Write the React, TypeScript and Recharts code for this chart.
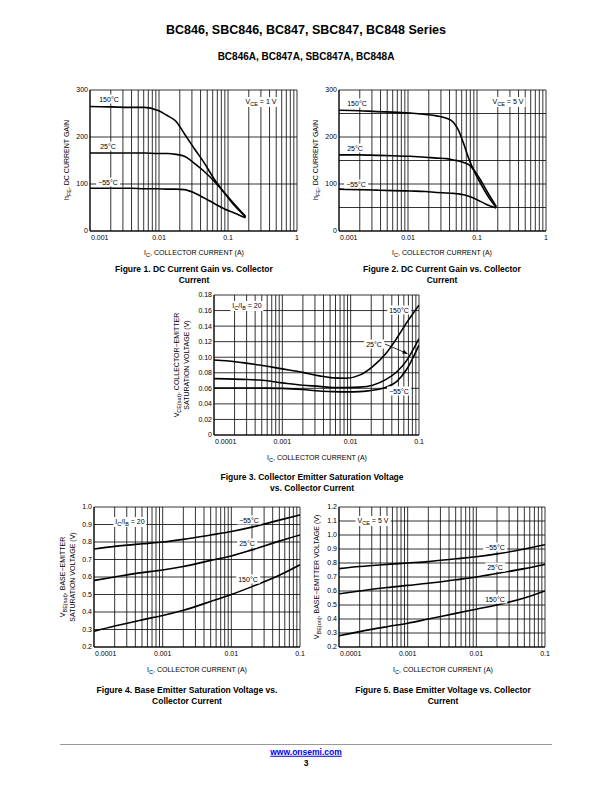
import React from "react";
import { LineChart, Line, XAxis, YAxis, CartesianGrid } from "recharts";

const FONT = '"Liberation Sans", Arial, Helvetica, sans-serif';

// ---- Figure 1: hFE vs Ic, VCE = 1 V
const fig1Ic = [0.001, 0.002, 0.004, 0.0062, 0.0095, 0.0134, 0.0177, 0.0233, 0.0326, 0.0457, 0.064, 0.089, 0.126, 0.18];
const fig1Hot = [265, 264, 263, 263, 257, 245, 233, 207, 175, 144, 109, 81, 53, 30];
const fig1Room = [166, 166, 166, 166, 165, 165, 163, 159, 144, 126, 105, 81, 56, 31];
const fig1Cold = [91, 91, 91, 90, 90, 89, 89, 88, 81, 70, 58, 47, 38, 28];

// ---- Figure 2: hFE vs Ic, VCE = 5 V
const fig2Ic = [0.001, 0.002, 0.0035, 0.006, 0.0107, 0.018, 0.026, 0.036, 0.0457, 0.054, 0.064, 0.076, 0.089, 0.112, 0.14, 0.19];
const fig2Hot = [257, 256, 254, 253, 251, 248, 245, 240, 231, 214, 186, 154, 130, 102, 77, 50];
const fig2Room = [162, 162, 161, 160, 159, 157, 155, 154, 151, 149, 146, 141, 131, 109, 84, 52];
const fig2Cold = [89, 88, 87, 86, 85, 84, 82, 81, 80, 79, 77, 74, 70, 63, 56, 49];

// ---- Figure 3: VCE(sat) vs Ic
const fig3Ic = [0.0001, 0.00015, 0.00026, 0.00046, 0.001, 0.002, 0.0035, 0.0055, 0.0087, 0.0135, 0.021, 0.033, 0.047, 0.065, 0.1];
const fig3Hot = [0.0965, 0.0955, 0.093, 0.09, 0.085, 0.0805, 0.076, 0.0735, 0.073, 0.077, 0.088, 0.105, 0.124, 0.1435, 0.167];
const fig3Room = [0.0725, 0.0722, 0.0715, 0.0707, 0.067, 0.064, 0.0625, 0.061, 0.061, 0.0615, 0.064, 0.0715, 0.081, 0.095, 0.124];
const fig3Cold = [0.0605, 0.0605, 0.0605, 0.0603, 0.06, 0.0585, 0.0565, 0.0558, 0.0555, 0.0558, 0.0575, 0.0615, 0.0685, 0.0835, 0.1157];

// ---- Figure 4: VBE(sat) vs Ic
const fig4Ic = [0.0001, 0.0002, 0.0005, 0.001, 0.002, 0.005, 0.01, 0.02, 0.05, 0.1];
const fig4Cold = [0.76, 0.775, 0.79, 0.8, 0.815, 0.84, 0.86, 0.885, 0.925, 0.955];
const fig4Room = [0.58, 0.6, 0.625, 0.64, 0.66, 0.695, 0.72, 0.755, 0.805, 0.84];
const fig4Hot = [0.29, 0.32, 0.355, 0.38, 0.41, 0.46, 0.5, 0.545, 0.61, 0.67];

// ---- Figure 5: VBE(on) vs Ic
const fig5Ic = [0.0001, 0.0002, 0.0005, 0.001, 0.002, 0.005, 0.01, 0.02, 0.05, 0.1];
const fig5Cold = [0.76, 0.775, 0.79, 0.8, 0.81, 0.83, 0.845, 0.865, 0.9, 0.93];
const fig5Room = [0.58, 0.6, 0.625, 0.64, 0.655, 0.68, 0.7, 0.725, 0.76, 0.79];
const fig5Hot = [0.28, 0.31, 0.345, 0.37, 0.4, 0.44, 0.47, 0.5, 0.55, 0.6];

// tick labels
const xLabels1 = ["0.001", "0.01", "0.1", "1"];
const xDecades1 = [0.001, 0.01, 0.1, 1];
const xLabels3 = ["0.0001", "0.001", "0.01", "0.1"];
const xDecades3 = [0.0001, 0.001, 0.01, 0.1];

const yTicks1 = [0, 100, 200, 300];
const yLabels1 = ["0", "100", "200", "300"];
const yTicks2 = [0, 50, 100, 150, 200, 250, 300];
const yTicks3 = [0, 0.02, 0.04, 0.06, 0.08, 0.1, 0.12, 0.14, 0.16, 0.18];
const yLabels3 = ["0", "0.02", "0.04", "0.06", "0.08", "0.10", "0.12", "0.14", "0.16", "0.18"];
const yTicks4 = [0.2, 0.3, 0.4, 0.5, 0.6, 0.7, 0.8, 0.9, 1.0];
const yLabels4 = ["0.2", "0.3", "0.4", "0.5", "0.6", "0.7", "0.8", "0.9", "1.0"];
const yTicks5 = [0.2, 0.3, 0.4, 0.5, 0.6, 0.7, 0.8, 0.9, 1.0, 1.1, 1.2];
const yLabels5 = ["0.2", "0.3", "0.4", "0.5", "0.6", "0.7", "0.8", "0.9", "1.0", "1.1", "1.2"];

// 1..9 grid lines in every decade
function logGrid(decades: number[]) {
  const out: number[] = [];
  decades.forEach((d, i) => {
    if (i === decades.length - 1) {
      out.push(d);
      return;
    }
    for (let k = 1; k <= 9; k++) out.push(+(d * k).toPrecision(6));
  });
  return out;
}

const near = (a: number, b: number) => Math.abs(a - b) < Math.abs(b) * 1e-6 + 1e-9;

const toPoints = (xs: number[], ys: number[]) => xs.map((i, k) => ({ i, v: ys[k] }));

type Series = { xs: number[]; ys: number[] };

type PlotProps = {
  left: number;
  top: number;
  w: number;
  h: number;
  xDecades: number[];
  xLabels: string[];
  yDomain: [number, number];
  yTicks: number[];
  yLabelVals: number[];
  yLabels: string[];
  series: Series[];
};

const AXIS_W = 40;
const MT = 6;
const MR = 6;
const AXIS_H = 16;

function Plot(p: PlotProps) {
  const grid = logGrid(p.xDecades);

  const xTick = (props: any) => {
    const { x, y, payload } = props;
    const idx = p.xDecades.findIndex((d) => near(payload.value, d));
    if (idx < 0) return <g />;
    const first = idx === 0;
    return (
      <text
        x={first ? x + 1 : x}
        y={y}
        dy="0.71em"
        textAnchor={first ? "start" : "middle"}
        fontSize={7}
        fontFamily={FONT}
        fill="#000"
      >
        {p.xLabels[idx]}
      </text>
    );
  };

  const yTick = (props: any) => {
    const { x, y, payload } = props;
    const idx = p.yLabelVals.findIndex((d) => near(payload.value, d));
    if (idx < 0) return <g />;
    return (
      <text x={x} y={y} dy="0.35em" textAnchor="end" fontSize={7} fontFamily={FONT} fill="#000">
        {p.yLabels[idx]}
      </text>
    );
  };

  return (
    <div style={{ position: "absolute", left: p.left - AXIS_W, top: p.top - MT }}>
      <LineChart
        width={AXIS_W + p.w + MR}
        height={MT + p.h + AXIS_H}
        margin={{ top: MT, right: MR, bottom: 0, left: 0 }}
      >
        <CartesianGrid stroke="#000" strokeWidth={0.8} />
        <XAxis
          dataKey="i"
          type="number"
          scale="log"
          domain={[p.xDecades[0], p.xDecades[p.xDecades.length - 1]]}
          ticks={grid}
          interval={0}
          allowDataOverflow
          height={AXIS_H}
          tickLine={false}
          tickSize={0}
          tickMargin={4}
          axisLine={{ stroke: "#000", strokeWidth: 1 }}
          tick={xTick}
        />
        <YAxis
          type="number"
          domain={p.yDomain}
          ticks={p.yTicks}
          interval={0}
          allowDataOverflow
          width={AXIS_W}
          tickLine={false}
          tickSize={0}
          tickMargin={2}
          axisLine={{ stroke: "#000", strokeWidth: 1 }}
          tick={yTick}
        />
        {p.series.map((s, k) => (
          <Line
            key={k}
            data={toPoints(s.xs, s.ys)}
            dataKey="v"
            type="monotone"
            stroke="#000"
            strokeWidth={1.6}
            dot={false}
            isAnimationActive={false}
          />
        ))}
      </LineChart>
    </div>
  );
}

function Txt({ x, y, size = 7, bold = false, children }: any) {
  return (
    <div
      style={{
        position: "absolute",
        left: x,
        top: y,
        transform: "translate(-50%, -50%)",
        fontSize: size,
        fontWeight: bold ? 700 : 400,
        fontFamily: FONT,
        whiteSpace: "nowrap",
        lineHeight: 1,
        color: "#000",
      }}
    >
      {children}
    </div>
  );
}

function Tag({ x, y, children }: any) {
  return (
    <div
      style={{
        position: "absolute",
        left: x,
        top: y,
        transform: "translate(-50%, -50%)",
        fontSize: 7,
        fontFamily: FONT,
        whiteSpace: "nowrap",
        lineHeight: "9px",
        background: "#fff",
        padding: "0 2px",
        color: "#000",
      }}
    >
      {children}
    </div>
  );
}

function VLabel({ x, y, children }: any) {
  return (
    <div
      style={{
        position: "absolute",
        left: x,
        top: y,
        transform: "translate(-50%, -50%) rotate(-90deg)",
        fontSize: 7,
        fontFamily: FONT,
        whiteSpace: "nowrap",
        lineHeight: 1,
        color: "#000",
      }}
    >
      {children}
    </div>
  );
}

const Sub = ({ children }: any) => (
  <span style={{ fontSize: 5.5, position: "relative", top: 1.5 }}>{children}</span>
);

const xTitle = (
  <>
    I<Sub>C</Sub>, COLLECTOR CURRENT (A)
  </>
);

export default function App() {
  return (
    <div
      style={{
        position: "absolute",
        left: 0,
        top: 0,
        width: 612,
        height: 792,
        background: "#fff",
        fontFamily: FONT,
      }}
    >
      <Txt x={306} y={30} size={12.5} bold>
        BC846, SBC846, BC847, SBC847, BC848 Series
      </Txt>
      <Txt x={306} y={57} size={10} bold>
        BC846A, BC847A, SBC847A, BC848A
      </Txt>

      {/* Figure 1 */}
      <Plot
        left={90}
        top={90}
        w={207}
        h={141}
        xDecades={xDecades1}
        xLabels={xLabels1}
        yDomain={[0, 300]}
        yTicks={yTicks1}
        yLabelVals={yTicks1}
        yLabels={yLabels1}
        series={[
          { xs: fig1Ic, ys: fig1Hot },
          { xs: fig1Ic, ys: fig1Room },
          { xs: fig1Ic, ys: fig1Cold },
        ]}
      />
      <Tag x={109} y={99}>150°C</Tag>
      <Tag x={108} y={146}>25°C</Tag>
      <Tag x={108} y={182}>−55°C</Tag>
      <Tag x={261} y={102}>
        V<Sub>CE</Sub> = 1 V
      </Tag>
      <VLabel x={67} y={160}>
        h<Sub>FE</Sub>, DC CURRENT GAIN
      </VLabel>
      <Txt x={194} y={253}>{xTitle}</Txt>
      <Txt x={194} y={269} size={8.5} bold>
        Figure 1. DC Current Gain vs. Collector
      </Txt>
      <Txt x={194} y={280} size={8.5} bold>
        Current
      </Txt>

      {/* Figure 2 */}
      <Plot
        left={339}
        top={90}
        w={207}
        h={141}
        xDecades={xDecades1}
        xLabels={xLabels1}
        yDomain={[0, 300]}
        yTicks={yTicks2}
        yLabelVals={yTicks1}
        yLabels={yLabels1}
        series={[
          { xs: fig2Ic, ys: fig2Hot },
          { xs: fig2Ic, ys: fig2Room },
          { xs: fig2Ic, ys: fig2Cold },
        ]}
      />
      <Tag x={357} y={103}>150°C</Tag>
      <Tag x={355} y={148}>25°C</Tag>
      <Tag x={356} y={184}>−55°C</Tag>
      <Tag x={508} y={102}>
        V<Sub>CE</Sub> = 5 V
      </Tag>
      <VLabel x={316} y={160}>
        h<Sub>FE</Sub>, DC CURRENT GAIN
      </VLabel>
      <Txt x={442} y={253}>{xTitle}</Txt>
      <Txt x={442} y={269} size={8.5} bold>
        Figure 2. DC Current Gain vs. Collector
      </Txt>
      <Txt x={442} y={280} size={8.5} bold>
        Current
      </Txt>

      {/* Figure 3 */}
      <Plot
        left={214}
        top={295}
        w={205}
        h={140}
        xDecades={xDecades3}
        xLabels={xLabels3}
        yDomain={[0, 0.18]}
        yTicks={yTicks3}
        yLabelVals={yTicks3}
        yLabels={yLabels3}
        series={[
          { xs: fig3Ic, ys: fig3Hot },
          { xs: fig3Ic, ys: fig3Room },
          { xs: fig3Ic, ys: fig3Cold },
        ]}
      />
      <Tag x={247} y={306}>
        I<Sub>C</Sub>/I<Sub>B</Sub> = 20
      </Tag>
      <Tag x={399} y={310}>150°C</Tag>
      <Tag x={374} y={344}>25°C</Tag>
      <Tag x={399} y={391}>−55°C</Tag>
      <svg style={{ position: "absolute", left: 380, top: 338, overflow: "visible" }} width={32} height={20}>
        <line x1={5} y1={6} x2={26} y2={15} stroke="#000" strokeWidth={0.8} />
        <polygon points="28,16 22,15.5 24,12" fill="#000" />
      </svg>
      <VLabel x={177} y={365}>
        V<Sub>CE(sat)</Sub>, COLLECTOR−EMITTER
      </VLabel>
      <VLabel x={186} y={365}>
        SATURATION VOLTAGE (V)
      </VLabel>
      <Txt x={317} y={458}>{xTitle}</Txt>
      <Txt x={312} y={477} size={8.5} bold>
        Figure 3. Collector Emitter Saturation Voltage
      </Txt>
      <Txt x={312} y={488} size={8.5} bold>
        vs. Collector Current
      </Txt>

      {/* Figure 4 */}
      <Plot
        left={94}
        top={507}
        w={206}
        h={140}
        xDecades={xDecades3}
        xLabels={xLabels3}
        yDomain={[0.2, 1.0]}
        yTicks={yTicks4}
        yLabelVals={yTicks4}
        yLabels={yLabels4}
        series={[
          { xs: fig4Ic, ys: fig4Cold },
          { xs: fig4Ic, ys: fig4Room },
          { xs: fig4Ic, ys: fig4Hot },
        ]}
      />
      <Tag x={130} y={522}>
        I<Sub>C</Sub>/I<Sub>B</Sub> = 20
      </Tag>
      <Tag x={249} y={520}>−55°C</Tag>
      <Tag x={247} y={543}>25°C</Tag>
      <Tag x={248} y={579}>150°C</Tag>
      <VLabel x={63} y={577}>
        V<Sub>BE(sat)</Sub>, BASE−EMITTER
      </VLabel>
      <VLabel x={72} y={577}>
        SATURATION VOLTAGE (V)
      </VLabel>
      <Txt x={197} y={670}>{xTitle}</Txt>
      <Txt x={187} y={690} size={8.5} bold>
        Figure 4. Base Emitter Saturation Voltage vs.
      </Txt>
      <Txt x={187} y={701} size={8.5} bold>
        Collector Current
      </Txt>

      {/* Figure 5 */}
      <Plot
        left={339}
        top={507}
        w={206}
        h={140}
        xDecades={xDecades3}
        xLabels={xLabels3}
        yDomain={[0.2, 1.2]}
        yTicks={yTicks5}
        yLabelVals={yTicks5}
        yLabels={yLabels5}
        series={[
          { xs: fig5Ic, ys: fig5Cold },
          { xs: fig5Ic, ys: fig5Room },
          { xs: fig5Ic, ys: fig5Hot },
        ]}
      />
      <Tag x={373} y={521}>
        V<Sub>CE</Sub> = 5 V
      </Tag>
      <Tag x={495} y={547}>−55°C</Tag>
      <Tag x={495} y={567}>25°C</Tag>
      <Tag x={495} y={599}>150°C</Tag>
      <VLabel x={317} y={577}>
        V<Sub>BE(on)</Sub>, BASE−EMITTER VOLTAGE (V)
      </VLabel>
      <Txt x={443} y={670}>{xTitle}</Txt>
      <Txt x={443} y={690} size={8.5} bold>
        Figure 5. Base Emitter Voltage vs. Collector
      </Txt>
      <Txt x={443} y={701} size={8.5} bold>
        Current
      </Txt>

      {/* footer */}
      <div style={{ position: "absolute", left: 60, top: 744, width: 492, height: 0, borderTop: "1px solid #999" }} />
      <Txt x={306} y={752} size={8.5} bold>
        <span style={{ color: "#0000ee", textDecoration: "underline" }}>www.onsemi.com</span>
      </Txt>
      <Txt x={306} y={763} size={8.5} bold>
        3
      </Txt>
    </div>
  );
}
